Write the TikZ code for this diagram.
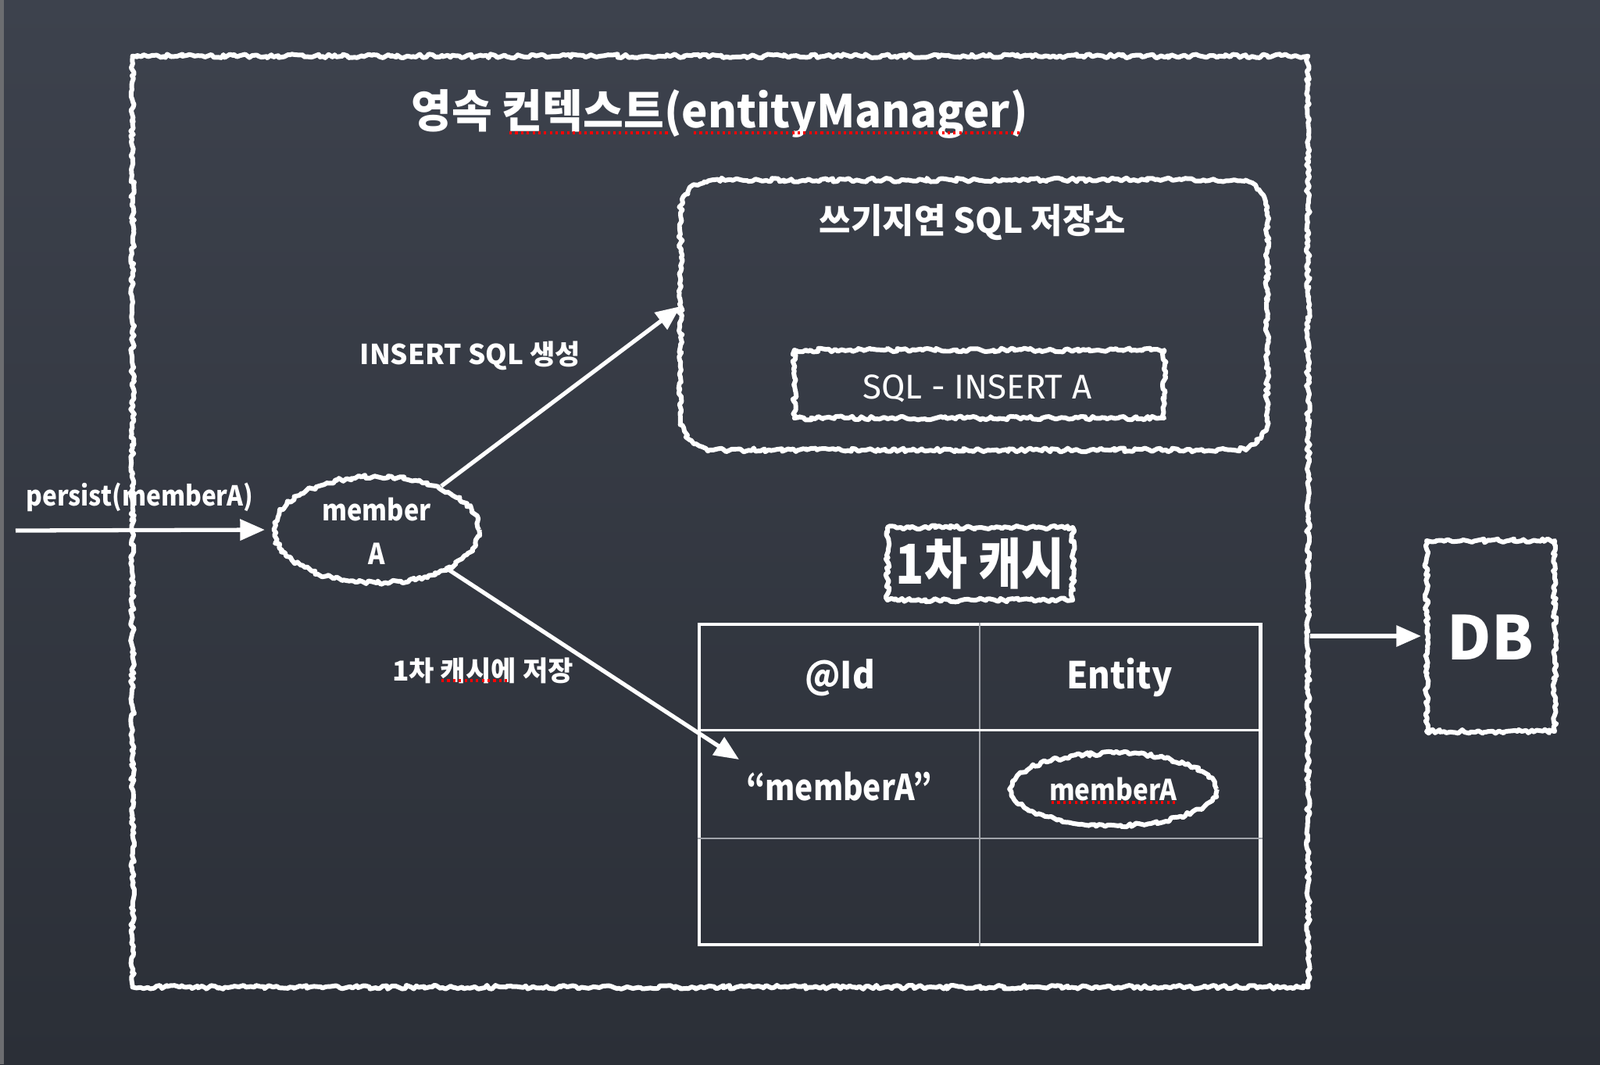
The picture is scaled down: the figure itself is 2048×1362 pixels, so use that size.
\documentclass[tikz,border=0pt]{standalone}
\usepackage{fontspec}
\setmainfont{Noto Sans CJK KR}
\newfontfamily\hand{Fira Sans}
\usetikzlibrary{shapes.geometric,decorations.pathmorphing,arrows.meta,calc}
\definecolor{boardtop}{HTML}{3D424D}
\definecolor{boardbot}{HTML}{2B2F37}
\definecolor{gridgray}{HTML}{A2A5AB}
\tikzset{
  chalk/.style={draw=white, line width=1.7pt, line join=round, decorate,
    decoration={random steps, segment length=1.1pt, amplitude=0.7pt}},
  arr/.style={draw=white, line width=1.5pt, -{Triangle[length=9pt,width=7.5pt]}},
  txt/.style={text=white, font=\bfseries, inner sep=0pt},
  squig/.style={draw=red, line width=0.9pt, dash pattern=on 0.9pt off 1.2pt},
}
\begin{document}
\begin{tikzpicture}[x=0.01cm,y=-0.01cm]
\useasboundingbox (0,0) rectangle (2048,1362);
\shade[top color=boardtop, bottom color=boardbot] (0,0) rectangle (2048,1362);
\fill[gray!70!boardtop] (0,0) rectangle (5,1362);

% outer persistence context box
\node[chalk, minimum width=15.04cm, minimum height=11.91cm] (outer) at (922,667.5) {};
\node[txt, font=\bfseries\fontsize{16.5}{20}\selectfont, xscale=0.97] (title) at (921,146) {영속 컨텍스트(entityManager)};
\draw[squig] (652,170) -- (856,170);
\draw[squig] (888,170) -- (1306,170);

% write-behind SQL store
\node[minimum width=7.49cm, minimum height=3.44cm, inner sep=0pt] (store) at (1246.5,403) {};
\draw[chalk] ($(store.north west)+(42,0)$) -- ($(store.north east)+(-42,0)$)
  arc[start angle=90, end angle=0, radius=0.42cm]
  -- ($(store.south east)+(0,-42)$)
  arc[start angle=0, end angle=-90, radius=0.42cm]
  -- ($(store.south west)+(42,0)$)
  arc[start angle=-90, end angle=-180, radius=0.42cm]
  -- ($(store.north west)+(0,42)$)
  arc[start angle=180, end angle=90, radius=0.42cm] -- cycle;
\node[txt, font=\bfseries\fontsize{12.5}{15}\selectfont] (storetitle) at (1245,285) {쓰기지연 SQL 저장소};
\node[chalk, minimum width=4.73cm, minimum height=0.87cm] (sqlbox) at (1253.5,491.5) {};
\node[text=white, font=\hand\fontsize{12.5}{15}\selectfont, inner sep=0pt] (sqltxt) at (1251,497) {SQL - INSERT A};

% member A
\node[chalk, ellipse, minimum width=2.62cm, minimum height=1.36cm] (member) at (482,678) {};
\node[txt, font=\bfseries\fontsize{10.5}{14}\selectfont, xscale=0.88, align=center] (membertxt) at (482,680) {member\\[2pt]A};

\node[txt, font=\bfseries\fontsize{10}{12}\selectfont, xscale=0.9] (persistlbl) at (179,636) {persist(memberA)};
\coordinate (pstart) at (20,679);
\draw[arr] (pstart) -- ([xshift=-0.09cm]member.west);

\node[txt, font=\bfseries\fontsize{10}{12}\selectfont] (insertlbl) at (602,455) {INSERT SQL 생성};
\draw[arr] (member.34) -- ([yshift=0.11cm]store.west);

\node[txt, font=\bfseries\fontsize{10}{12}\selectfont] (savelbl) at (618,858) {1차 캐시에 저장};
\draw[squig] (565,871) -- (652,871);
\coordinate (cachetip) at (946,972);
\draw[arr] (member.-29) -- (cachetip);

% first-level cache
\node[chalk, minimum width=2.37cm, minimum height=0.93cm] (cachebox) at (1254.5,721.5) {};
\node[txt, font=\bfseries\fontsize{20}{24}\selectfont, xscale=0.85] (cachelbl) at (1254.5,721.5) {1차 캐시};

\node[draw=white, line width=1.3pt, minimum width=7.18cm, minimum height=4.10cm, inner sep=0pt] (tbl) at (1254,1004) {};
\draw[gridgray, line width=0.5pt] (tbl.north) -- (tbl.south);
\draw[white, line width=0.8pt] ($(tbl.north west)!1/3!(tbl.south west)$) -- ($(tbl.north east)!1/3!(tbl.south east)$);
\draw[gridgray, line width=0.5pt] ($(tbl.north west)!2/3!(tbl.south west)$) -- ($(tbl.north east)!2/3!(tbl.south east)$);

\node[txt, font=\bfseries\fontsize{13.5}{16}\selectfont, xscale=0.92] (idhdr) at (1075,867) {@Id};
\node[txt, font=\bfseries\fontsize{13.5}{16}\selectfont, xscale=0.92] (enthdr) at (1433,867) {Entity};
\node[txt, font=\bfseries\fontsize{13}{16}\selectfont, xscale=0.85] (keytxt) at (1074,1007) {“memberA\symbol{34}};
\node[chalk, ellipse, minimum width=2.64cm, minimum height=0.92cm] (entell) at (1425,1010) {};
\node[txt, font=\bfseries\fontsize{10.5}{13}\selectfont, xscale=0.9] (enttxt) at (1425,1010) {memberA};
\draw[squig] (1346,1027) -- (1504,1027);

% DB
\node[chalk, minimum width=1.64cm, minimum height=2.44cm] (db) at (1908,814) {};
\node[txt, font=\bfseries\fontsize{22}{26}\selectfont] (dbtxt) at (1908,816) {DB};
\draw[arr] (outer.east |- db.west) -- ([xshift=-0.04cm]db.west);
\end{tikzpicture}
\end{document}
